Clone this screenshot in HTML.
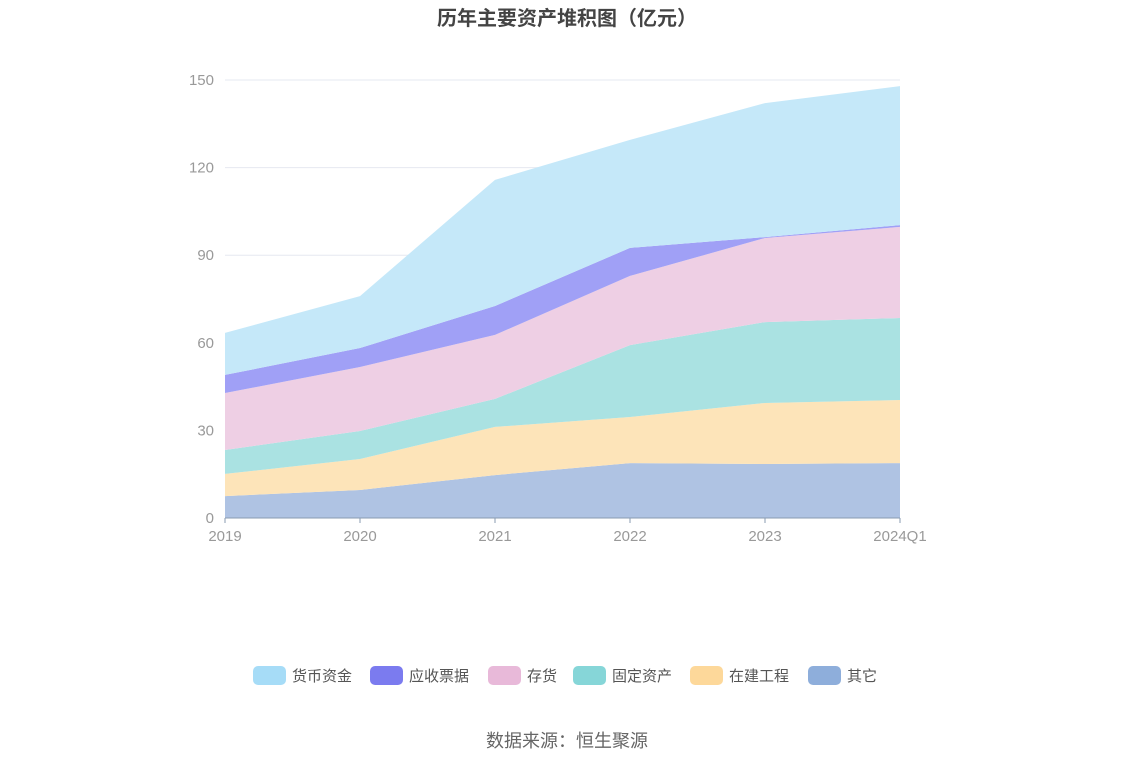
<!DOCTYPE html>
<html><head><meta charset="utf-8"><style>
body{margin:0;background:#fff;}
svg text{font-family:"Liberation Sans","Noto Sans CJK SC",sans-serif;}
</style></head><body>
<svg id="c" width="1134" height="766">
<text x="567" y="25" text-anchor="middle" font-size="20" font-weight="bold" fill="#444">历年主要资产堆积图（亿元）</text>
<g id="grid"></g><g id="areas"></g><g id="axes"></g><g id="legend"></g>
<text x="567" y="747" text-anchor="middle" font-size="18" fill="#666">数据来源：恒生聚源</text>
</svg>
<script>
const categories=["2019","2020","2021","2022","2023","2024Q1"];
const seriesNames=["货币资金","应收票据","存货","固定资产","在建工程","其它"];
const other=[7.5,9.6,14.7,18.8,18.5,18.8];
const construction=[7.6,10.6,16.5,15.8,20.9,21.6];
const fixedAssets=[8.2,9.6,9.6,24.6,27.7,28.1];
const inventory=[19.5,21.9,21.9,23.7,28.8,31.2];
const notesReceivable=[6.2,6.5,9.9,9.6,0.3,0.6];
const cash=[14.4,17.8,43.2,37.0,45.9,47.6];
const yTicks=[0,30,60,90,120,150];
const NS="http://www.w3.org/2000/svg";
const x=i=>225+i*135, y=v=>518-v*(438/150);
function mk(t,a,p){const e=document.createElementNS(NS,t);for(const k in a)e.setAttribute(k,a[k]);p.appendChild(e);return e;}
const grid=document.getElementById('grid'),axes=document.getElementById('axes'),areas=document.getElementById('areas'),legend=document.getElementById('legend');
yTicks.forEach(t=>{
 const l=mk('line',{x1:225,x2:900,y1:y(t),y2:y(t),stroke:'#e6e8f0'},grid);
 
 
 const tx=mk('text',{x:214,y:y(t)+5,'text-anchor':'end','font-size':15,fill:'#999'},axes);tx.textContent=t;
 
 
});
const stackOrder=[other,construction,fixedAssets,inventory,notesReceivable,cash];
const fills=["#afc3e3","#fde4b9","#aae2e2","#eecfe4","#a0a0f6","#c5e8f9"];
const names=["other-area","construction-area","fixed-assets-area","inventory-area","notes-receivable-area","cash-area"];
let base=categories.map(()=>0);
stackOrder.forEach((s,k)=>{
 const top=base.map((b,i)=>b+s[i]);
 let d='M'+top.map((v,i)=>x(i)+','+y(v)).join('L');
 for(let i=categories.length-1;i>=0;i--)d+='L'+x(i)+','+y(base[i]);
 const p=mk('path',{d:d+'Z',fill:fills[k]},areas);
 
 
 base=top;
});
const ax=mk('line',{x1:225,x2:900,y1:518,y2:518,stroke:'#8a9bb0'},axes);


categories.forEach((c,i)=>{
 mk('line',{x1:x(i),x2:x(i),y1:518,y2:523,stroke:'#8a9bb0'},axes);
 const t=mk('text',{x:x(i),y:541,'text-anchor':'middle','font-size':15,fill:'#999'},axes);t.textContent=c;
 
 
});
const legCols=["#a6dcf7","#7b7bef","#e8b9d9","#86d6d8","#fdd89a","#8eaedb"];
const lx=[253,370,488,573,690,808];
seriesNames.forEach((n,i)=>{
 const g=mk('g',{},legend);
 
 
 mk('rect',{x:lx[i],y:666,width:33,height:19,rx:5,fill:legCols[i]},g);
 const t=mk('text',{x:lx[i]+39,y:681,'font-size':15,fill:'#555'},g);t.textContent=n;
});
</script>
</body></html>
